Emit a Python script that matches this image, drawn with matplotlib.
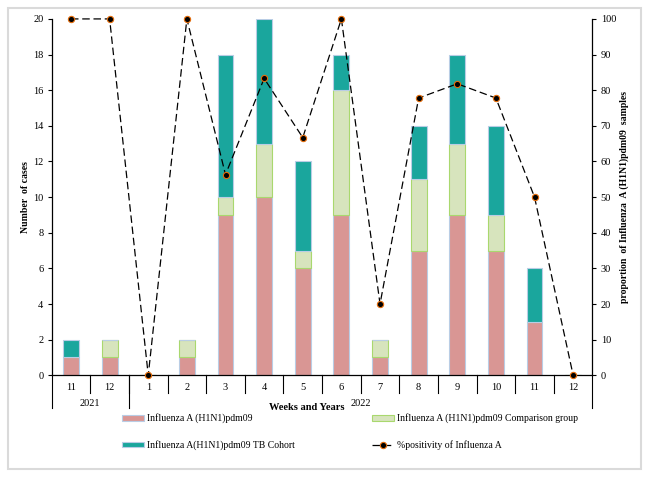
import matplotlib.pyplot as plt
import numpy as np
from matplotlib.patches import Rectangle

plt.rcParams["font.family"] = ["Liberation Serif", "DejaVu Serif"]

weeks = ["11", "12", "1", "2", "3", "4", "5", "6", "7", "8", "9", "10", "11", "12"]
h1n1 = [1, 1, 0, 1, 9, 10, 6, 9, 1, 7, 9, 7, 3, 0]
comparison = [0, 1, 0, 1, 1, 3, 1, 7, 1, 4, 4, 2, 0, 0]
tb_cohort = [1, 0, 0, 0, 8, 7, 5, 2, 0, 3, 5, 5, 3, 0]
positivity = [100, 100, 0, 100, 56.3, 83.3, 66.7, 100, 20, 77.8, 81.8, 77.8, 50, 0]
years = ["2021", "2022"]
year_counts = [2, 12]

PINK = "#D99694"
GREEN = "#D7E4BD"
GREEN_EDGE = "#A9D86E"
TEAL = "#1AA69D"
BLUE_EDGE = "#B9CDE5"
ORANGE = "#E46C0A"

fig = plt.figure(figsize=(6.5, 4.79), dpi=100)
ax1 = fig.add_axes([0.0795, 0.2165, 0.832, 0.744])
fig.patches.append(Rectangle((8 / 650, 10 / 479), 633 / 650, 461 / 479,
                             transform=fig.transFigure, fill=False,
                             edgecolor="#DADADA", lw=1.5))

x = np.arange(len(weeks))
w = 0.41
b1 = ax1.bar(x, h1n1, w, color=PINK, edgecolor=BLUE_EDGE, lw=0.8, zorder=2)
bottom2 = np.array(h1n1)
b2 = ax1.bar(x, comparison, w, bottom=bottom2, color=GREEN,
             edgecolor=GREEN_EDGE, lw=0.8, zorder=2)
bottom3 = bottom2 + np.array(comparison)
b3 = ax1.bar(x, tb_cohort, w, bottom=bottom3, color=TEAL,
             edgecolor=BLUE_EDGE, lw=0.8, zorder=2)

ax1.set_xlim(-0.5, len(weeks) - 0.5)
ax1.set_ylim(0, 20)
ax1.set_yticks(np.arange(0, 21, 2))
ax1.tick_params(axis="y", labelsize=7.5, length=3, width=0.8, pad=3,
                direction="out")
ax1.set_ylabel("Number  of cases", fontsize=7, fontweight="bold")
ax1.yaxis.set_label_coords(-0.04, 0.5)
for s in ["top", "right"]:
    ax1.spines[s].set_visible(False)
ax1.spines["left"].set_linewidth(0.9)
ax1.spines["bottom"].set_linewidth(0.9)

# multi-level category axis
ax1.set_xticks([])
trans = ax1.get_xaxis_transform()
for k in range(1, len(weeks)):
    ax1.plot([k - 0.5, k - 0.5], [0, -0.049], color="black", lw=0.8,
             transform=trans, clip_on=False)
for i, lab in enumerate(weeks):
    ax1.text(i, -0.033, lab, transform=trans, ha="center", va="center",
             fontsize=7.5)
start = 0
edges = [start]
for c in year_counts:
    start += c
    edges.append(start)
for e in edges:
    ax1.plot([e - 0.5, e - 0.5], [0, -0.092], color="black", lw=0.8,
             transform=trans, clip_on=False)
for yr, a, b in zip(years, edges[:-1], edges[1:]):
    ax1.text((a + b - 1) / 2, -0.078, yr, transform=trans, ha="center",
             va="center", fontsize=7.5)
ax1.text(6.1, -0.09, "Weeks and Years", transform=trans, ha="center",
         va="center", fontsize=7.5, fontweight="bold")

ax2 = ax1.twinx()
ln, = ax2.plot(x, positivity, color="black", lw=0.9, dashes=(6, 3),
               marker="o", markersize=4.5, markerfacecolor="black",
               markeredgecolor=ORANGE, markeredgewidth=0.8, zorder=3,
               clip_on=False)
ax2.set_ylim(0, 100)
ax2.set_yticks(np.arange(0, 101, 10))
ax2.tick_params(axis="y", labelsize=7.5, length=3, width=0.8, pad=3,
                direction="out")
ax2.set_ylabel("proportion  of Influenza  A (H1N1)pdm09  samples", fontsize=7,
               fontweight="bold", labelpad=2)
for s in ["top", "left", "bottom"]:
    ax2.spines[s].set_visible(False)
ax2.spines["right"].set_linewidth(0.9)

handles = [b1, b3, b2, ln]
labels = ["Influenza A (H1N1)pdm09", "Influenza A(H1N1)pdm09 TB Cohort",
          "Influenza A (H1N1)pdm09 Comparison group",
          "%positivity of Influenza A"]
fig.legend(handles, labels, ncol=2, loc="upper left",
           bbox_to_anchor=(0.174, 0.155), frameon=False, fontsize=7,
           handlelength=2.3, handleheight=0.5, handletextpad=0.3,
           columnspacing=7.9, labelspacing=1.75)

fig.savefig("out.png", dpi=100)
